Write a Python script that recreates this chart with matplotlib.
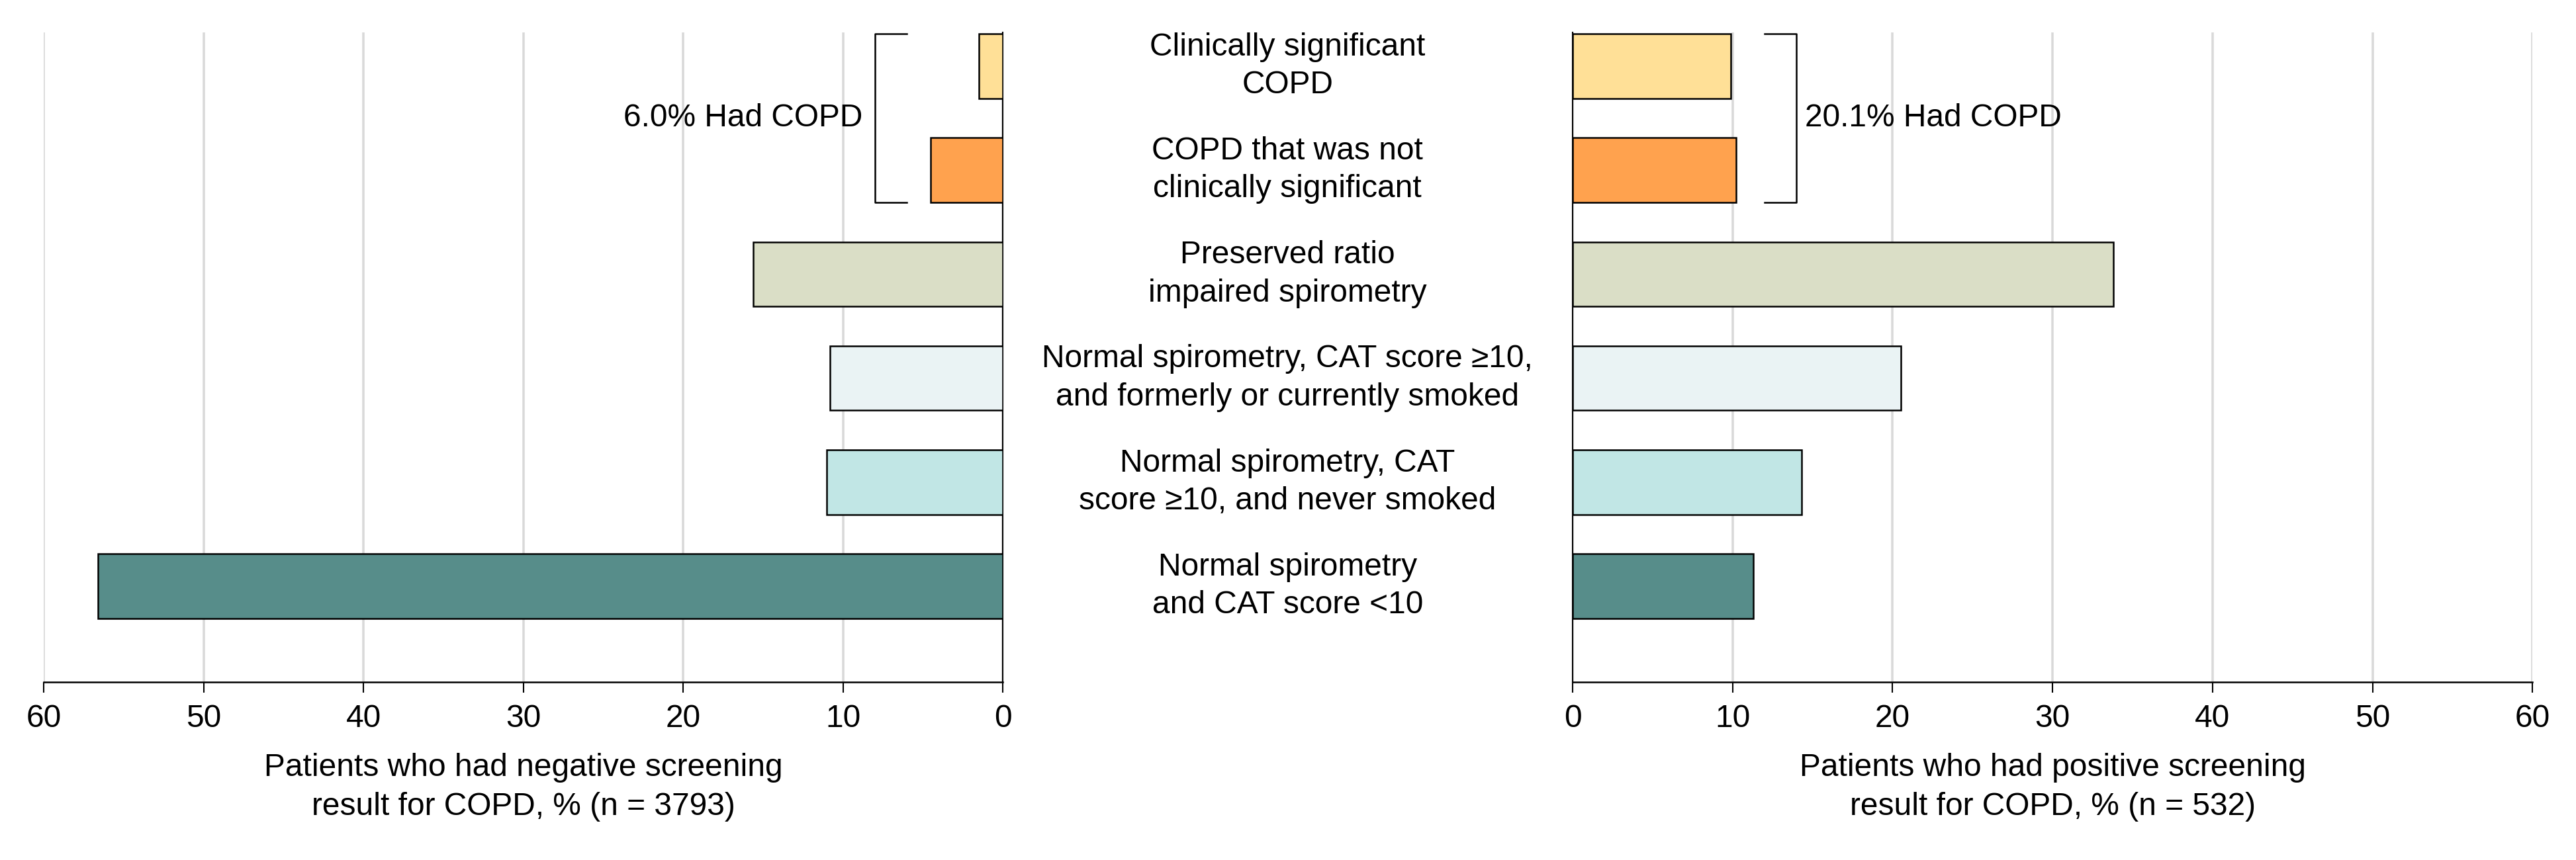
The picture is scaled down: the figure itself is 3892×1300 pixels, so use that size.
import matplotlib
matplotlib.use('Agg')
import matplotlib.pyplot as plt
import matplotlib.transforms as mtransforms
import numpy as np

plt.rcParams['font.family'] = ['Liberation Sans', 'DejaVu Sans']
plt.rcParams['font.size'] = 11.5

# categories, top to bottom
categories = [
    "Clinically significant\nCOPD",
    "COPD that was not\nclinically significant",
    "Preserved ratio\nimpaired spirometry",
    "Normal spirometry, CAT score \u226510,\nand formerly or currently smoked",
    "Normal spirometry, CAT\nscore \u226510, and never smoked",
    "Normal spirometry\nand CAT score <10",
]
neg_pct = [1.5, 4.5, 15.6, 10.8, 11.0, 56.6]   # negative screening (n = 3793)
pos_pct = [9.9, 10.2, 33.8, 20.5, 14.3, 11.3]  # positive screening (n = 532)
bar_colors = ['#FFE097', '#FFA24E', '#DADEC6', '#EAF3F4', '#C1E6E5', '#578D8A']
xticks = [0, 10, 20, 30, 40, 50, 60]

neg_label = "Patients who had negative screening\nresult for COPD, % (n = 3793)"
pos_label = "Patients who had positive screening\nresult for COPD, % (n = 532)"

fig = plt.figure(figsize=(3892 / 300, 1300 / 300), dpi=300)
ax_l = fig.add_axes([0.01696, 0.2069, 0.3723, 0.7554])
ax_r = fig.add_axes([0.6105, 0.2069, 0.3726, 0.7554])

y = np.arange(len(categories))
bar_h = 0.62

for ax, vals in [(ax_l, neg_pct), (ax_r, pos_pct)]:
    ax.barh(y, vals, height=bar_h, color=bar_colors, edgecolor='black',
            linewidth=0.6, zorder=3)
    ax.set_ylim(5.922, -0.324)
    ax.set_xticks(xticks)
    ax.set_yticks([])
    ax.grid(axis='x', color='#D9D9D9', linewidth=0.85, zorder=0)
    ax.tick_params(axis='x', direction='out', length=3.9, width=0.5, pad=4,
                   labelsize=11.5, colors='black')
    ax.spines['top'].set_visible(False)
    ax.spines['bottom'].set_linewidth(0.6)
    ax.set_axisbelow(True)

ax_l.set_xlim(60, 0)
ax_l.spines['left'].set_visible(False)
ax_l.spines['right'].set_linewidth(0.5)
ax_r.set_xlim(0, 60)
ax_r.spines['right'].set_visible(False)
ax_r.spines['left'].set_linewidth(0.5)

ax_l.set_xlabel(neg_label, fontsize=11.5, labelpad=7, linespacing=1.4)
ax_r.set_xlabel(pos_label, fontsize=11.5, labelpad=7, linespacing=1.4)

# category labels in the middle gap
trans = mtransforms.blended_transform_factory(fig.transFigure, ax_l.transData)
for yi, lab in zip(y, categories):
    fig.text(0.4998, yi, lab, transform=trans, ha='center', va='center',
             fontsize=11.5, linespacing=1.35)

# brackets for COPD groups
b_top = y[0] - bar_h / 2
b_bot = y[1] + bar_h / 2
ax_l.plot([6, 8, 8, 6], [b_top, b_top, b_bot, b_bot], color='black',
          linewidth=0.6, clip_on=False, zorder=4)
ax_l.text(8.75, (y[0] + y[1]) / 2, f"{neg_pct[0] + neg_pct[1]:.1f}% Had COPD",
          ha='right', va='center', fontsize=11.5)
ax_r.plot([12, 14, 14, 12], [b_top, b_top, b_bot, b_bot], color='black',
          linewidth=0.6, clip_on=False, zorder=4)
ax_r.text(14.5, (y[0] + y[1]) / 2, f"{pos_pct[0] + pos_pct[1]:.1f}% Had COPD",
          ha='left', va='center', fontsize=11.5)

fig.savefig('out.png', dpi=300, facecolor='white')
